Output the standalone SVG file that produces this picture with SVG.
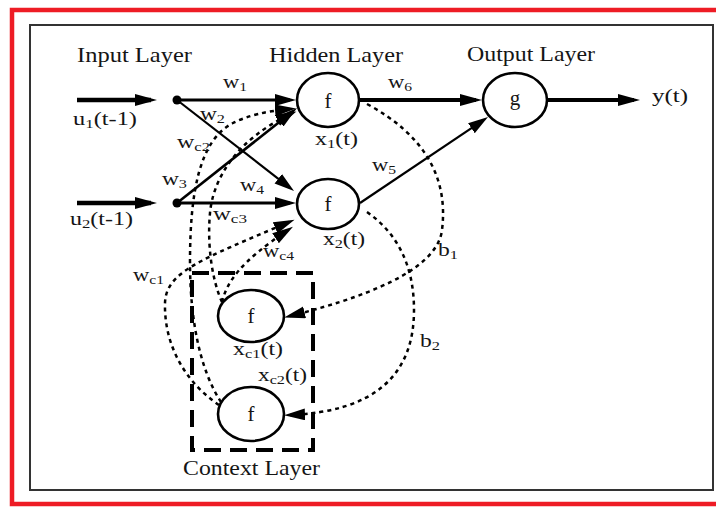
<svg xmlns="http://www.w3.org/2000/svg" width="716" height="507" viewBox="0 0 716 507">
<style>
text{font-family:"Liberation Serif","Times New Roman",serif;fill:#151515;}
.t{font-size:22px;}
.lb{font-size:18px;}
.nf{font-size:21px;text-anchor:middle;}
.sub{font-size:12.5px;}
.node{fill:#fff;stroke:#000;stroke-width:2.6;}
.solid{fill:none;stroke:#000;stroke-linecap:butt;}
.dot{fill:none;stroke:#000;stroke-width:2.5;stroke-dasharray:4 4;}
</style>
<defs>
<marker id="big" markerUnits="userSpaceOnUse" markerWidth="24" markerHeight="14" refX="16" refY="6" orient="auto"><path d="M0,0 L22,6 L0,12 z" fill="#000"/></marker>
<marker id="med" markerUnits="userSpaceOnUse" markerWidth="24" markerHeight="14" refX="15" refY="6" orient="auto"><path d="M0,0 L21,6 L0,12 z" fill="#000"/></marker>
<marker id="sm" markerUnits="userSpaceOnUse" markerWidth="22" markerHeight="14" refX="14" refY="6" orient="auto"><path d="M0,0 L20,6 L0,12 z" fill="#000"/></marker>
<marker id="dh" markerUnits="userSpaceOnUse" markerWidth="24" markerHeight="14" refX="15" refY="6" orient="auto"><path d="M0,0 L21,6 L0,12 z" fill="#000"/></marker>
</defs>

<rect x="12" y="10" width="720" height="494" fill="none" stroke="#ee1c25" stroke-width="4.5"/>
<rect x="30" y="25" width="683" height="465" fill="#fff" stroke="#333" stroke-width="2"/>

<text class="t" x="77" y="62" textLength="115" lengthAdjust="spacingAndGlyphs">Input Layer</text>
<text class="t" x="269" y="62" textLength="134" lengthAdjust="spacingAndGlyphs">Hidden Layer</text>
<text class="t" x="467" y="61" textLength="128" lengthAdjust="spacingAndGlyphs">Output Layer</text>

<g id="connectors">
<path class="solid" stroke-width="4.5" d="M77,100 L151,100" marker-end="url(#big)"/>
<path class="solid" stroke-width="4.5" d="M77,203 L151,203" marker-end="url(#big)"/>
<path class="solid" stroke-width="3" d="M177,100 L290,100" marker-end="url(#med)"/>
<path class="solid" stroke-width="3" d="M177,203 L290,203" marker-end="url(#med)"/>
<path class="solid" stroke-width="2.2" d="M177,100 L289.3,187.3" marker-end="url(#sm)"/>
<path class="solid" stroke-width="2.6" d="M177,203 L292.3,111.8" marker-end="url(#big)"/>
<path class="solid" stroke-width="4.2" d="M360,100 L476,100" marker-end="url(#big)"/>
<path class="solid" stroke-width="2.2" d="M360,203 L483,120.4" marker-end="url(#sm)"/>
<path class="solid" stroke-width="4.2" d="M547,100 L634,100" marker-end="url(#big)"/>

<path class="dot" d="M367,104 Q452,150 442,230 Q436,280 290,316" marker-end="url(#dh)"/>
<path class="dot" d="M367,212 Q414,245 414,310 Q414,410 290,415" marker-end="url(#dh)"/>
<path class="dot" d="M221,402 C200,370 190,320 190,262 C190,190 200,140 233,123 Q255,112 290,109" marker-end="url(#dh)"/>
<path class="dot" d="M222,302 C212,280 207,245 210,213 C213,180 235,140 291,114" marker-end="url(#dh)"/>
<path class="dot" d="M219,405 C185,382 164,345 165,303 C166,272 200,260 289,222" marker-end="url(#dh)"/>
<path class="dot" d="M222,302 C227,282 240,262 288,230" marker-end="url(#dh)"/>
</g>

<g id="in1"><circle cx="177" cy="100" r="4.5" fill="#000"/>
<text class="lb" x="73" y="125" textLength="64" lengthAdjust="spacingAndGlyphs">u<tspan class="sub" dy="3">1</tspan><tspan dy="-3">(t-1)</tspan></text></g>
<g id="in2"><circle cx="177" cy="203" r="4.5" fill="#000"/>
<text class="lb" x="70" y="225" textLength="63" lengthAdjust="spacingAndGlyphs">u<tspan class="sub" dy="3">2</tspan><tspan dy="-3">(t-1)</tspan></text></g>

<g id="x1"><ellipse class="node" cx="328" cy="100" rx="31" ry="27"/><text class="nf" x="328" y="108">f</text>
<text class="lb" x="315" y="145" textLength="43" lengthAdjust="spacingAndGlyphs">x<tspan class="sub" dy="3">1</tspan><tspan dy="-3">(t)</tspan></text></g>
<g id="x2"><ellipse class="node" cx="328" cy="204" rx="31" ry="25"/><text class="nf" x="328" y="211">f</text>
<text class="lb" x="323" y="245" textLength="42" lengthAdjust="spacingAndGlyphs">x<tspan class="sub" dy="3">2</tspan><tspan dy="-3">(t)</tspan></text></g>
<g id="g"><ellipse class="node" cx="515" cy="100" rx="32" ry="27"/><text class="nf" x="515" y="105">g</text></g>
<g id="y"><text class="lb" x="652" y="102" font-size="20" textLength="36" lengthAdjust="spacingAndGlyphs">y(t)</text></g>

<g id="context">
<rect x="192" y="273" width="121" height="177" fill="none" stroke="#000" stroke-width="4" stroke-dasharray="17 9"/>
<text class="t" x="183" y="475" textLength="137" lengthAdjust="spacingAndGlyphs">Context Layer</text>
</g>
<g id="xc1"><ellipse class="node" cx="251" cy="316" rx="33" ry="26"/><text class="nf" x="251" y="323">f</text>
<text class="lb" x="233" y="355" textLength="50" lengthAdjust="spacingAndGlyphs">x<tspan class="sub" dy="3">c1</tspan><tspan dy="-3">(t)</tspan></text></g>
<g id="xc2"><ellipse class="node" cx="251" cy="414" rx="33" ry="27"/><text class="nf" x="251" y="421">f</text>
<text class="lb" x="258" y="381" textLength="49" lengthAdjust="spacingAndGlyphs">x<tspan class="sub" dy="3">c2</tspan><tspan dy="-3">(t)</tspan></text></g>

<g id="labels">
<text class="lb" x="223" y="88" textLength="24" lengthAdjust="spacingAndGlyphs">w<tspan class="sub" dy="3">1</tspan></text>
<text class="lb" x="200" y="120" textLength="25" lengthAdjust="spacingAndGlyphs">w<tspan class="sub" dy="3">2</tspan></text>
<text class="lb" x="177" y="148" textLength="33" lengthAdjust="spacingAndGlyphs">w<tspan class="sub" dy="3">c2</tspan></text>
<text class="lb" x="162" y="185" textLength="25" lengthAdjust="spacingAndGlyphs">w<tspan class="sub" dy="3">3</tspan></text>
<text class="lb" x="240" y="191" textLength="24" lengthAdjust="spacingAndGlyphs">w<tspan class="sub" dy="3">4</tspan></text>
<text class="lb" x="213" y="220" textLength="34" lengthAdjust="spacingAndGlyphs">w<tspan class="sub" dy="3">c3</tspan></text>
<text class="lb" x="263" y="257" textLength="31" lengthAdjust="spacingAndGlyphs">w<tspan class="sub" dy="3">c4</tspan></text>
<text class="lb" x="133" y="281" textLength="31" lengthAdjust="spacingAndGlyphs">w<tspan class="sub" dy="3">c1</tspan></text>
<text class="lb" x="388" y="88" textLength="24" lengthAdjust="spacingAndGlyphs">w<tspan class="sub" dy="3">6</tspan></text>
<text class="lb" x="372" y="171" textLength="24" lengthAdjust="spacingAndGlyphs">w<tspan class="sub" dy="3">5</tspan></text>
<text class="lb" x="438" y="256" textLength="20" lengthAdjust="spacingAndGlyphs">b<tspan class="sub" dy="3">1</tspan></text>
<text class="lb" x="420" y="347" textLength="20" lengthAdjust="spacingAndGlyphs">b<tspan class="sub" dy="3">2</tspan></text>
</g>
</svg>
